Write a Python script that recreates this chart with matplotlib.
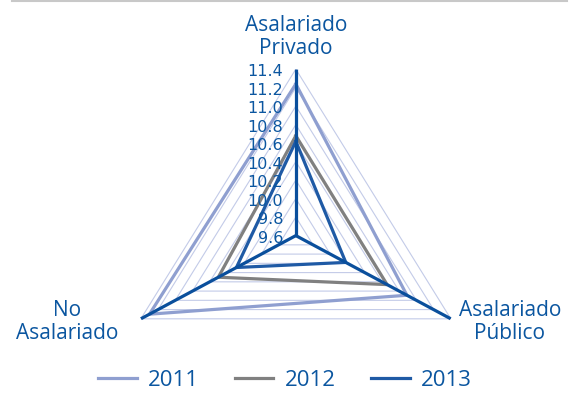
import numpy as np
import matplotlib
matplotlib.use("Agg")
import matplotlib.pyplot as plt
from matplotlib.lines import Line2D

categories = ["Asalariado\nPrivado", "Asalariado\nPúblico", "No\nAsalariado"]
years = ["2011", "2012", "2013"]
v2011 = [11.24, 10.89, 11.30]
v2012 = [10.68, 10.66, 10.50]
v2013 = [10.62, 10.18, 10.29]
ticks = [9.6, 9.8, 10.0, 10.2, 10.4, 10.6, 10.8, 11.0, 11.2, 11.4]

series = [v2011, v2012, v2013]
colors = ["#8f9fd0", "#808080", "#1f5aa5"]
text_c = "#0b56a0"
spoke_c = "#0a4f9c"
grid_c = "#c3cbe8"

plt.rcParams['font.family'] = ['Open Sans', 'DejaVu Sans']

fig = plt.figure(figsize=(5.70, 3.93), dpi=100)
ax = fig.add_axes([0.205, -0.023, 0.628, 0.847], projection='polar')
ax.set_theta_offset(np.pi / 2)
ax.set_theta_direction(-1)
ax.set_aspect('auto')

theta = np.linspace(0, 2 * np.pi, len(categories), endpoint=False)
theta_c = np.append(theta, theta[0])

# polygon grid
for t in ticks[1:]:
    ax.plot(theta_c, [t] * len(theta_c), color=grid_c, lw=0.8, zorder=1)

for vals, c, y in zip(series, colors, years):
    ax.plot(theta_c, vals + vals[:1], color=c, lw=2.3, label=y, zorder=3)

# spokes
for th in theta:
    ax.plot([th, th], [ticks[0], ticks[-1]], color=spoke_c, lw=2.3, zorder=4,
            solid_capstyle='butt')

ax.set_ylim(ticks[0], ticks[-1])
ax.set_xticks([])
ax.set_yticks([])
ax.grid(False)
ax.spines['polar'].set_visible(False)
ax.patch.set_visible(False)

for t in ticks:
    ax.annotate(f"{t:.1f}", xy=(0, t), xytext=(-9, -2), textcoords='offset points',
                ha='right', va='center', fontsize=11.5, color=text_c,
                family='DejaVu Sans', zorder=5)

fig.text(296 / 570, 1 - 37 / 393, categories[0], ha='center', va='center',
         fontsize=15, color=text_c, linespacing=1.1)
fig.text(510 / 570, 1 - 322 / 393, categories[1], ha='center', va='center',
         fontsize=15, color=text_c, linespacing=1.1)
fig.text(67 / 570, 1 - 322 / 393, categories[2], ha='center', va='center',
         fontsize=15, color=text_c, linespacing=1.1)

handles = [Line2D([], [], color=c, lw=2.3) for c in colors]
leg = fig.legend(handles, years, loc='center', bbox_to_anchor=(0.5, 1 - 380 / 393),
                 ncol=3, frameon=False, fontsize=16, handlelength=1.75,
                 columnspacing=1.6, handletextpad=0.5)
for txt in leg.get_texts():
    txt.set_color(text_c)

fig.add_artist(Line2D([12 / 570, 567 / 570], [0.997, 0.997], color="#c8c8c8", lw=1.5))

fig.savefig("out.png", dpi=100)
